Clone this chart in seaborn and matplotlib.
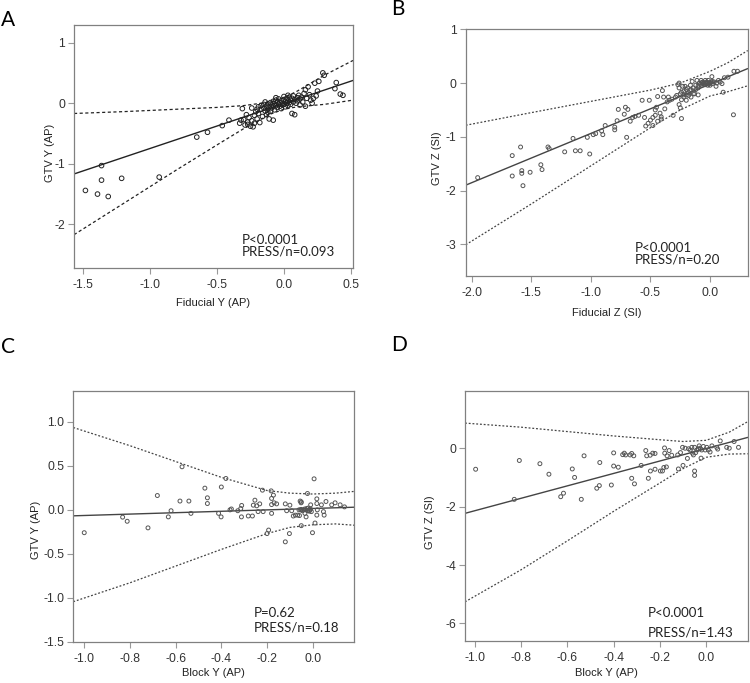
import numpy as np
import pandas as pd
import matplotlib
matplotlib.use("Agg")
import matplotlib.pyplot as plt
import seaborn as sns

# ---- Panel A: Fiducial Y (AP) vs GTV Y (AP)
a_pts = [
    (-1.48, -1.44), (-1.39, -1.50), (-1.31, -1.54), (-1.36, -1.27), (-1.36, -1.03),
    (-1.21, -1.24), (-0.93, -1.22), (-0.65, -0.56), (-0.57, -0.48), (-0.46, -0.37),
    (-0.41, -0.28), (0.29, 0.50), (0.30, 0.46), (0.39, 0.34), (0.38, 0.24),
    (0.42, 0.15), (0.44, 0.13), (0.23, 0.33), (0.26, 0.36), (0.18, 0.27),
    (0.16, 0.22), (0.22, 0.08), (0.24, 0.12), (0.21, 0.00), (0.25, 0.20),
    (-0.33, -0.33), (-0.31, -0.09), (-0.30, -0.27), (-0.29, -0.36), (-0.28, -0.19),
    (-0.27, -0.31), (-0.26, -0.24), (-0.25, -0.38), (-0.24, -0.08), (-0.24, -0.29),
    (-0.23, -0.39), (-0.22, -0.20), (-0.22, -0.33), (-0.21, -0.14), (-0.20, -0.26),
    (-0.19, -0.06), (-0.19, -0.17), (-0.18, -0.32), (-0.17, -0.10), (-0.16, -0.22),
    (-0.15, -0.02), (-0.15, -0.08), (-0.14, -0.13), (-0.13, -0.05), (-0.13, -0.19),
    (-0.12, -0.01), (-0.12, -0.10), (-0.11, -0.26), (-0.11, -0.06), (-0.10, 0.01),
    (-0.10, -0.13), (-0.09, -0.03), (-0.09, -0.08), (-0.08, 0.03), (-0.08, -0.05),
    (-0.08, -0.28), (-0.07, -0.01), (-0.07, -0.11), (-0.06, 0.05), (-0.06, -0.04),
    (-0.05, -0.07), (-0.05, 0.02), (-0.04, -0.02), (-0.04, 0.07), (-0.03, -0.05),
    (-0.03, 0.01), (-0.02, 0.04), (-0.02, -0.09), (-0.01, 0.00), (-0.01, -0.03),
    (0.00, 0.06), (0.00, -0.02), (0.01, 0.02), (0.01, -0.06), (0.02, 0.08),
    (0.02, 0.00), (0.03, 0.03), (0.03, -0.04), (0.04, 0.10), (0.04, 0.01),
    (0.05, 0.05), (0.05, -0.02), (0.06, 0.08), (0.06, -0.17), (0.07, 0.02),
    (0.07, 0.12), (0.08, -0.19), (0.08, 0.06), (0.09, 0.00), (0.10, 0.09),
    (0.10, 0.04), (0.11, 0.13), (0.12, -0.03), (0.12, 0.07), (0.13, 0.10),
    (0.14, 0.02), (0.15, 0.16), (0.16, -0.05), (0.17, 0.08), (0.19, 0.14),
    (0.20, 0.05), (-0.14, 0.02), (-0.17, -0.04), (-0.20, -0.10), (-0.12, -0.15),
    (0.00, 0.11), (-0.06, 0.09), (0.03, 0.13), (-0.27, -0.35), (-0.32, -0.28),
]
a_fit_x = [-1.565, 0.515]
a_fit_y = [-1.168, 0.375]
a_band_x = [-1.565, -1.2, -0.8, -0.5, -0.3, -0.1, 0.0, 0.1, 0.3, 0.515]
a_upper = [-0.17, -0.14, -0.10, -0.07, -0.04, 0.02, 0.09, 0.20, 0.46, 0.705]
a_lower = [-2.17, -1.66, -1.10, -0.69, -0.42, -0.18, -0.10, -0.06, -0.02, 0.05]

# ---- Panel B: Fiducial Z (SI) vs GTV Z (SI)
b_pts = [
    (-1.95, -1.76), (-1.66, -1.35), (-1.66, -1.73), (-1.59, -1.19), (-1.58, -1.68),
    (-1.58, -1.63), (-1.57, -1.91), (-1.51, -1.66), (-1.42, -1.52), (-1.41, -1.61),
    (-1.36, -1.19), (-1.35, -1.22), (-1.22, -1.28), (-1.15, -1.03), (-1.13, -1.26),
    (-1.09, -1.26), (-1.03, -1.01), (-1.01, -1.32), (-0.98, -0.96), (-0.96, -0.94),
    (-0.88, -0.79), (-0.91, -0.89), (-0.90, -0.96), (-0.80, -0.87), (-0.80, -0.82),
    (-0.78, -0.70), (-0.77, -0.49), (-0.72, -0.58), (-0.70, -1.01), (-0.71, -0.45),
    (-0.69, -0.49), (-0.67, -0.71), (-0.65, -0.64), (-0.63, -0.62), (-0.60, -0.60),
    (-0.57, -0.32), (-0.55, -0.64), (-0.54, -0.80), (-0.52, -0.75), (-0.51, -0.32),
    (-0.50, -0.69), (-0.48, -0.79), (-0.48, -0.64), (-0.46, -0.60), (-0.46, -0.50),
    (-0.45, -0.45), (-0.44, -0.25), (-0.44, -0.71), (-0.42, -0.56), (-0.41, -0.63),
    (-0.41, -0.67), (-0.40, -0.14), (-0.39, -0.26), (-0.38, -0.48), (-0.36, -0.35),
    (-0.35, -0.26), (-0.34, -0.32), (-0.32, -0.30), (-0.31, -0.60), (-0.29, -0.26),
    (-0.28, -0.23), (-0.27, -0.03), (-0.26, -0.09), (-0.26, -0.40), (-0.25, -0.46),
    (-0.24, -0.31), (-0.24, -0.17), (-0.24, -0.66), (-0.22, -0.26), (-0.22, -0.15),
    (-0.21, -0.06), (-0.20, -0.22), (-0.20, -0.32), (-0.19, -0.09), (-0.18, -0.23),
    (-0.17, -0.14), (-0.165, -0.04), (-0.16, -0.26), (-0.15, 0.03), (-0.14, -0.09),
    (-0.13, -0.20), (-0.12, -0.04), (-0.11, 0.05), (-0.10, -0.09), (-0.10, -0.22),
    (-0.09, 0.00), (-0.075, 0.05), (-0.07, -0.04), (-0.06, 0.02), (-0.05, -0.02),
    (-0.04, 0.05), (-0.035, 0.00), (-0.03, 0.02), (-0.02, -0.04), (-0.015, 0.05),
    (-0.005, 0.00), (0.00, -0.04), (0.01, 0.02), (0.015, 0.12), (0.02, -0.01),
    (0.035, 0.02), (0.05, -0.06), (0.055, 0.00), (0.07, 0.05), (0.085, 0.02),
    (0.10, -0.01), (0.11, -0.17), (0.12, 0.10), (0.15, 0.11), (0.20, 0.22),
    (0.23, 0.22), (0.196, -0.59), (-0.08, -0.02), (-0.06, -0.01), (-0.05, 0.00),
    (-0.04, -0.03), (-0.03, 0.00), (-0.02, 0.01), (-0.01, -0.02), (0.00, 0.01),
    (0.02, 0.03), (-0.07, 0.01), (-0.10, -0.05), (-0.12, -0.12), (-0.14, -0.20),
    (-0.16, -0.12), (-0.18, -0.18), (-0.20, -0.12), (-0.22, -0.22), (-0.25, -0.20),
    (-0.26, 0.00), (-0.23, -0.06),
]
b_fit_x = [-2.05, 0.316]
b_fit_y = [-1.90, 0.27]
b_band_x = [-2.05, -1.5, -1.0, -0.5, -0.25, 0.0, 0.15, 0.316]
b_upper = [-0.785, -0.55, -0.34, -0.13, 0.0, 0.22, 0.38, 0.606]
b_lower = [-3.01, -2.25, -1.54, -0.83, -0.50, -0.24, -0.16, -0.05]

# ---- Panel C: Block Y (AP) vs GTV Y (AP)
c_pts = [
    (-1.0, -0.26), (-0.832, -0.083), (-0.812, -0.13), (-0.721, -0.205), (-0.68, 0.163),
    (-0.632, -0.08), (-0.62, -0.01), (-0.581, 0.10), (-0.572, 0.49), (-0.542, 0.10),
    (-0.533, -0.04), (-0.472, 0.247), (-0.461, 0.137), (-0.461, 0.072), (-0.412, -0.04),
    (-0.401, -0.08), (-0.40, 0.26), (-0.38, 0.357), (-0.362, 0.0), (-0.356, 0.01),
    (-0.328, -0.01), (-0.315, 0.015), (-0.311, 0.05), (-0.312, -0.08), (-0.282, -0.07),
    (-0.264, -0.07), (-0.26, 0.053), (-0.253, 0.11), (-0.245, 0.046), (-0.239, -0.02),
    (-0.232, 0.068), (-0.217, -0.02), (-0.22, 0.224), (-0.20, -0.27), (-0.193, -0.23),
    (-0.182, 0.216), (-0.18, 0.13), (-0.18, 0.06), (-0.18, -0.04), (-0.172, 0.167),
    (-0.169, 0.08), (-0.158, 0.068), (-0.12, -0.364), (-0.12, 0.068), (-0.114, -0.01),
    (-0.102, -0.27), (-0.10, 0.053), (-0.092, -0.01), (-0.085, -0.07), (-0.076, -0.06),
    (-0.066, -0.06), (-0.058, -0.065), (-0.055, 0.10), (-0.053, 0.0), (-0.051, 0.08),
    (-0.05, -0.18), (-0.04, 0.0), (-0.034, -0.04), (-0.029, -0.08), (-0.026, 0.015),
    (-0.023, 0.186), (-0.022, -0.01), (-0.012, 0.0), (-0.009, 0.057), (-0.006, -0.02),
    (-0.001, -0.26), (0.006, 0.353), (0.01, -0.15), (0.018, 0.125), (0.018, 0.072),
    (0.02, 0.0), (0.018, -0.06), (0.038, 0.057), (0.047, -0.02), (0.05, -0.06),
    (0.058, 0.095), (0.083, 0.057), (0.098, 0.08), (0.12, 0.057), (0.139, 0.034),
    (-0.06, 0.0), (-0.05, 0.005), (-0.045, -0.01), (-0.035, 0.01), (-0.03, 0.0),
    (-0.02, 0.02), (-0.015, -0.015), (-0.01, 0.01), (-0.05, 0.09),
]
c_fit_x = [-1.048, 0.182]
c_fit_y = [-0.068, 0.03]
c_band_x = [-1.048, -0.8, -0.6, -0.4, -0.2, -0.1, 0.0, 0.1, 0.182]
c_upper = [0.937, 0.73, 0.55, 0.37, 0.22, 0.19, 0.18, 0.19, 0.21]
c_lower = [-1.045, -0.83, -0.64, -0.45, -0.27, -0.20, -0.17, -0.16, -0.175]

# ---- Panel D: Block Y (AP) vs GTV Z (SI)
d_pts = [
    (-0.997, -0.72), (-0.83, -1.75), (-0.808, -0.42), (-0.719, -0.53), (-0.68, -0.89),
    (-0.629, -1.66), (-0.617, -1.54), (-0.579, -0.71), (-0.569, -1.0), (-0.54, -1.75),
    (-0.528, -0.26), (-0.473, -1.37), (-0.462, -1.28), (-0.46, -0.49), (-0.41, -1.26),
    (-0.40, -0.16), (-0.40, -0.61), (-0.38, -0.65), (-0.361, -0.22), (-0.354, -0.17),
    (-0.348, -0.23), (-0.329, -0.23), (-0.322, -0.18), (-0.313, -0.26), (-0.322, -1.03),
    (-0.31, -1.22), (-0.281, -0.59), (-0.261, -0.08), (-0.257, -0.26), (-0.25, -1.03),
    (-0.242, -0.24), (-0.241, -0.78), (-0.231, -0.17), (-0.221, -0.18), (-0.221, -0.72),
    (-0.198, -0.78), (-0.189, -0.78), (-0.183, -0.66), (-0.18, 0.01), (-0.179, -0.17),
    (-0.172, -0.64), (-0.169, -0.26), (-0.16, -0.08), (-0.149, -0.24), (-0.123, -0.23),
    (-0.12, -0.71), (-0.111, -0.15), (-0.102, 0.03), (-0.10, -0.59), (-0.091, 0.0),
    (-0.081, -0.35), (-0.076, -0.02), (-0.069, -0.06), (-0.062, 0.03), (-0.059, -0.17),
    (-0.055, -0.23), (-0.05, -0.78), (-0.05, -0.93), (-0.05, 0.03), (-0.045, -0.15),
    (-0.04, -0.06), (-0.033, -0.03), (-0.03, 0.08), (-0.026, 0.0), (-0.022, -0.34),
    (-0.019, -0.06), (-0.012, 0.06), (-0.004, -0.06), (0.003, 0.03), (0.01, -0.06),
    (0.017, -0.13), (0.025, 0.08), (0.046, 0.03), (0.05, -0.03), (0.061, 0.25),
    (0.089, 0.03), (0.10, 0.0), (0.121, 0.23), (0.14, 0.03),
]
d_fit_x = [-1.043, 0.18]
d_fit_y = [-2.23, 0.37]
d_band_x = [-1.043, -0.8, -0.6, -0.4, -0.2, -0.1, 0.0, 0.1, 0.18]
d_upper = [0.86, 0.72, 0.57, 0.42, 0.29, 0.23, 0.27, 0.55, 0.91]
d_lower = [-5.26, -4.16, -3.17, -2.16, -1.19, -0.70, -0.31, -0.20, -0.19]

panels = [
    dict(tag="A", pts=a_pts, fit=(a_fit_x, a_fit_y), band=(a_band_x, a_upper, a_lower),
         xlabel="Fiducial Y (AP)", ylabel="GTV Y (AP)",
         xlim=(-1.565, 0.515), ylim=(-2.72, 1.29),
         xticks=[-1.5, -1.0, -0.5, 0.0, 0.5], xfmt="{:.1f}",
         yticks=[-2, -1, 0, 1], yfmt="{:.0f}",
         text=["P<0.0001", "PRESS/n=0.093"],
         rect=[0.0987, 0.6076, 0.372, 0.3558],
         tag_xy=(0.001, 0.97), xl=-0.123, yl=(-0.068, 0.473), txy=(0.602, 0.115, 0.066),
         mcol="#222222", lcol="#222222", dash=(0, (2.5, 2)), ms=11),
    dict(tag="B", pts=b_pts, fit=(b_fit_x, b_fit_y), band=(b_band_x, b_upper, b_lower),
         xlabel="Fiducial Z (SI)", ylabel="GTV Z (SI)",
         xlim=(-2.05, 0.316), ylim=(-3.59, 1.0),
         xticks=[-2.0, -1.5, -1.0, -0.5, 0.0], xfmt="{:.1f}",
         yticks=[-3, -2, -1, 0, 1], yfmt="{:.0f}",
         text=["P<0.0001", "PRESS/n=0.20"],
         rect=[0.621, 0.596, 0.376, 0.361],
         tag_xy=(0.522, 0.987), xl=-0.13, yl=(-0.084, 0.478), txy=(0.60, 0.113, 0.066),
         mcol="#555555", lcol="#444444", dash=(0, (1.5, 1.5)), ms=8),
    dict(tag="C", pts=c_pts, fit=(c_fit_x, c_fit_y), band=(c_band_x, c_upper, c_lower),
         xlabel="Block Y (AP)", ylabel="GTV Y (AP)",
         xlim=(-1.048, 0.182), ylim=(-1.5, 1.356),
         xticks=[-1.0, -0.8, -0.6, -0.4, -0.2, 0.0], xfmt="{:.1f}",
         yticks=[-1.5, -1.0, -0.5, 0.0, 0.5, 1.0], yfmt="{:.1f}",
         text=["P=0.62", "PRESS/n=0.18"],
         rect=[0.0977, 0.0605, 0.3747, 0.3675],
         tag_xy=(0.001, 0.492), xl=-0.105, yl=(-0.115, 0.445), txy=(0.643, 0.114, 0.058),
         mcol="#555555", lcol="#444444", dash=(0, (1.5, 1.5)), ms=8),
    dict(tag="D", pts=d_pts, fit=(d_fit_x, d_fit_y), band=(d_band_x, d_upper, d_lower),
         xlabel="Block Y (AP)", ylabel="GTV Z (SI)",
         xlim=(-1.043, 0.18), ylim=(-6.6, 1.97),
         xticks=[-1.0, -0.8, -0.6, -0.4, -0.2, 0.0], xfmt="{:.1f}",
         yticks=[-6, -4, -2, 0], yfmt="{:.0f}",
         text=["P<0.0001", "PRESS/n=1.43"],
         rect=[0.62, 0.0615, 0.377, 0.3665],
         tag_xy=(0.522, 0.495), xl=-0.108, yl=(-0.106, 0.475), txy=(0.647, 0.112, 0.035),
         mcol="#555555", lcol="#444444", dash=(0, (1.5, 1.5)), ms=8),
]

sns.set_theme(style="white")
plt.rcParams["font.family"] = ["Liberation Sans", "DejaVu Sans"]
plt.rcParams["axes.unicode_minus"] = False

fig = plt.figure(figsize=(7.5, 6.83), dpi=100)

for p in panels:
    ax = fig.add_axes(p["rect"])
    df = pd.DataFrame(p["pts"], columns=["x", "y"])
    sns.scatterplot(data=df, x="x", y="y", ax=ax, marker="o", s=p["ms"],
                    facecolor="none", edgecolor=p["mcol"], linewidth=0.7, zorder=3)

    fx, fy = p["fit"]
    sns.lineplot(x=fx, y=fy, ax=ax, color=p["lcol"], linewidth=1.0,
                 estimator=None, sort=False)
    bx, up, lo = p["band"]
    for yy in (up, lo):
        sns.lineplot(x=bx, y=yy, ax=ax, color=p["lcol"], linewidth=0.9,
                     linestyle=p["dash"], estimator=None, sort=False)

    ax.set_xlim(*p["xlim"])
    ax.set_ylim(*p["ylim"])
    ax.set_xticks(p["xticks"])
    ax.set_xticklabels([p["xfmt"].format(v) for v in p["xticks"]])
    ax.set_yticks(p["yticks"])
    ax.set_yticklabels([p["yfmt"].format(v) for v in p["yticks"]])
    ax.tick_params(axis="both", which="major", direction="out", length=4, width=0.8,
                   color="#999999", labelsize=8.7, labelcolor="#333333",
                   left=True, bottom=True)
    ax.tick_params(axis="x", pad=4)
    ax.tick_params(axis="y", pad=2.5)
    for sp in ax.spines.values():
        sp.set_color("#808080")
        sp.set_linewidth(0.9)

    ax.set_xlabel(p["xlabel"], fontsize=8, color="#222222")
    ax.set_ylabel(p["ylabel"], fontsize=8, color="#222222")
    ax.xaxis.set_label_coords(0.5, p["xl"])
    ax.yaxis.set_label_coords(*p["yl"])

    tx, ty1, ty2 = p["txy"]
    ax.text(tx, ty1, p["text"][0], transform=ax.transAxes, fontsize=9.5,
            family=["Lato", "DejaVu Sans"], color="#222222", va="center", ha="left")
    ax.text(tx, ty2, p["text"][1], transform=ax.transAxes, fontsize=9.5,
            family=["Lato", "DejaVu Sans"], color="#222222", va="center", ha="left")

    fig.text(p["tag_xy"][0], p["tag_xy"][1], p["tag"], fontsize=15,
             family=["Lato", "DejaVu Sans"], color="black", va="center", ha="left")

fig.savefig("out.png", dpi=100, facecolor="white")
